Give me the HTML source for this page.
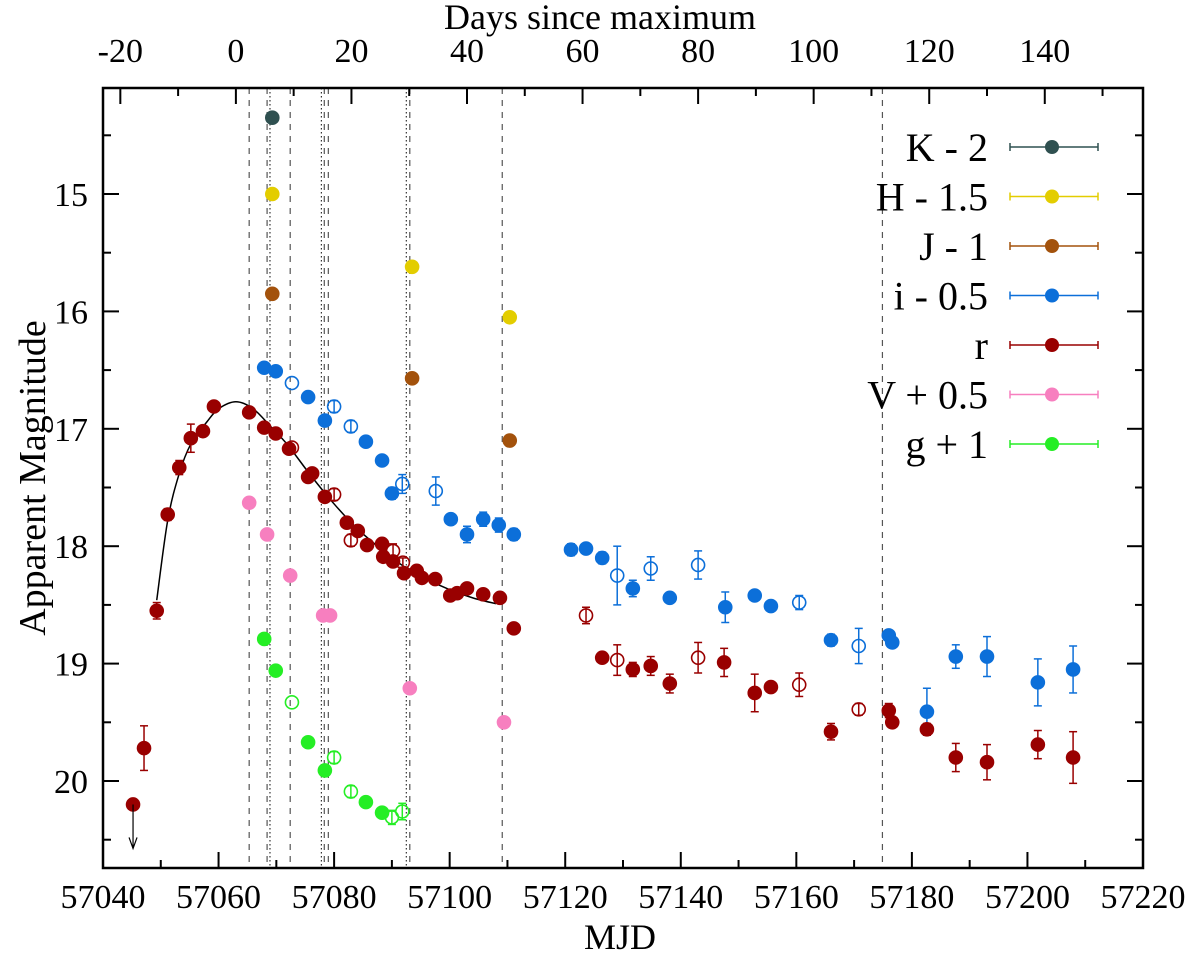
<!DOCTYPE html>
<html><head><meta charset="utf-8"><style>
body{margin:0;background:#fff}
svg{display:block}
text{font-family:"Liberation Serif",serif;fill:#000}
</style></head><body>
<svg id="chart" width="1200" height="960"></svg>
<script>
const rF=[[57045.2,20.20,0],[57047.1,19.72,0.19],[57049.3,18.55,0.07],[57051.2,17.73,0.05],[57053.2,17.33,0.06],[57055.2,17.08,0.12],[57057.3,17.02,0.03],[57059.2,16.81,0.03],[57065.3,16.86,0.03],[57067.9,16.99,0.03],[57069.9,17.04,0.03],[57072.2,17.17,0.03],[57075.5,17.41,0.03],[57076.2,17.38,0.03],[57078.4,17.58,0.03],[57082.2,17.80,0.03],[57084.1,17.87,0.03],[57085.7,17.99,0.03],[57088.3,17.98,0.03],[57088.5,18.09,0.03],[57090.2,18.13,0.03],[57092.1,18.23,0.03],[57094.3,18.21,0.03],[57095.2,18.27,0.03],[57097.5,18.28,0.03],[57100.1,18.42,0.03],[57101.3,18.40,0.03],[57103.0,18.36,0.04],[57105.8,18.41,0.04],[57108.7,18.44,0.03],[57111.1,18.70,0.03],[57126.4,18.95,0.03],[57131.7,19.05,0.06],[57134.8,19.02,0.08],[57138.1,19.17,0.08],[57147.5,18.99,0.12],[57152.8,19.25,0.16],[57155.6,19.20,0.03],[57166.0,19.58,0.07],[57176.0,19.40,0.06],[57176.6,19.50,0.03],[57182.6,19.56,0.05],[57187.6,19.80,0.12],[57193.0,19.84,0.15],[57201.8,19.69,0.12],[57207.9,19.80,0.22]];
const rO=[[57072.7,17.16,0.03],[57080.0,17.56,0.05],[57082.9,17.95,0.05],[57090.2,18.04,0.06],[57091.9,18.14,0.04],[57123.6,18.59,0.07],[57129.0,18.97,0.13],[57143.0,18.95,0.13],[57160.5,19.18,0.1],[57170.8,19.39,0.05]];
const iF=[[57067.9,16.48,0.02],[57069.9,16.51,0.02],[57075.5,16.73,0.02],[57078.4,16.93,0.02],[57085.5,17.11,0.02],[57088.3,17.27,0.02],[57090.0,17.55,0.05],[57100.2,17.77,0.04],[57103.0,17.90,0.07],[57105.8,17.77,0.06],[57108.5,17.82,0.06],[57111.1,17.90,0.05],[57121.0,18.03,0.05],[57123.6,18.02,0.04],[57126.4,18.10,0.05],[57131.7,18.36,0.07],[57138.1,18.44,0.04],[57147.7,18.52,0.13],[57152.8,18.42,0.03],[57155.6,18.51,0.03],[57166.0,18.80,0.05],[57176.0,18.76,0.04],[57176.6,18.82,0.04],[57182.6,19.41,0.2],[57187.6,18.94,0.1],[57193.0,18.94,0.17],[57201.8,19.16,0.2],[57207.9,19.05,0.2]];
const iO=[[57072.7,16.61,0.03],[57080.0,16.81,0.05],[57082.9,16.98,0.05],[57091.8,17.47,0.08],[57097.6,17.53,0.12],[57129.0,18.25,0.25],[57134.8,18.19,0.1],[57143.0,18.16,0.12],[57160.5,18.48,0.06],[57170.8,18.85,0.15]];
const vF=[[57065.3,17.63,0.02],[57068.4,17.90,0.02],[57072.4,18.25,0.02],[57078.1,18.59,0.02],[57079.3,18.59,0.02],[57093.1,19.21,0.02],[57109.4,19.50,0.02]];
const gF=[[57067.9,18.79,0.02],[57069.9,19.06,0.02],[57075.5,19.67,0.02],[57078.4,19.91,0.02],[57085.5,20.18,0.04],[57088.3,20.27,0.03]];
const gO=[[57072.7,19.33,0.03],[57080.0,19.80,0.05],[57082.9,20.09,0.05],[57090.0,20.31,0.06],[57091.8,20.26,0.07]];
const jF=[[57069.3,15.85,0.02],[57093.5,16.57,0.02],[57110.4,17.10,0.02]];
const hF=[[57069.3,15.00,0.02],[57093.5,15.62,0.02],[57110.4,16.05,0.02]];
const kF=[[57069.3,14.35,0.02]];
const fitCurve=[[57049.3,18.46],[57051.2,17.78],[57053.2,17.38],[57055.2,17.13],[57058,16.94],[57060,16.83],[57063,16.77],[57066,16.83],[57069,16.98],[57072,17.14],[57076,17.40],[57080,17.64],[57084,17.85],[57088,18.02],[57092,18.17],[57096,18.28],[57100,18.37],[57104,18.44],[57108,18.49]];
const vLines=[[57065.3,'dash'],[57068.4,'dash'],[57068.9,'dot'],[57072.4,'dash'],[57077.8,'dot'],[57078.3,'dash'],[57079.0,'dash'],[57092.5,'dot'],[57093.1,'dash'],[57109.1,'dash'],[57174.9,'dash']];
const xTicks=[57040,57060,57080,57100,57120,57140,57160,57180,57200,57220];
const yTicks=[15,16,17,18,19,20];
const topTicks=[-20,0,20,40,60,80,100,120,140];
const legendNames=['K - 2','H - 1.5','J - 1','i - 0.5','r','V + 0.5','g + 1'];
const legendColors=['#2f5050','#e3cd00','#a3520c','#0c6fd9','#990000','#f77fbf','#25ee25'];
const tMax=57063;

const L=103,R=1143,T=88,B=868;
const X=m=>L+(m-57040)*(R-L)/180;
const Y=v=>194+(v-15)*117.4;
const svg=document.getElementById('chart');
const NS='http://www.w3.org/2000/svg';
function mk(tag,at,parent){const e=document.createElementNS(NS,tag);for(const k in at)e.setAttribute(k,at[k]);(parent||svg).appendChild(e);return e;}

vLines.forEach(v=>{const l=mk('line',{x1:X(v[0]),x2:X(v[0]),y1:T,y2:B,stroke:v[1]==='dot'?'#333':'#555','stroke-width':1.2,'stroke-dasharray':v[1]==='dot'?'1.5,2.5':'6,6'});

});

let d='';const P=fitCurve.map(p=>[X(p[0]),Y(p[1])]);
d='M'+P[0][0]+','+P[0][1];
for(let i=0;i<P.length-1;i++){const p0=P[i-1]||P[i],p1=P[i],p2=P[i+1],p3=P[i+2]||P[i+1];
d+=` C${p1[0]+(p2[0]-p0[0])/6},${p1[1]+(p2[1]-p0[1])/6} ${p2[0]-(p3[0]-p1[0])/6},${p2[1]-(p3[1]-p1[1])/6} ${p2[0]},${p2[1]}`;}
const fc=mk('path',{d:d,fill:'none',stroke:'#000','stroke-width':1.5});



function series(data,color,open,name){
 const g=mk('g',{});
 
 
 data.forEach(p=>{const x=X(p[0]),y=Y(p[1]);
  if(p[2]>0.035){const e=p[2]*117.4;mk('line',{x1:x,x2:x,y1:y-e,y2:y+e,stroke:color,'stroke-width':1.5},g);
   mk('line',{x1:x-4,x2:x+4,y1:y-e,y2:y-e,stroke:color,'stroke-width':1.5},g);mk('line',{x1:x-4,x2:x+4,y1:y+e,y2:y+e,stroke:color,'stroke-width':1.5},g);}
  const c=mk('circle',{cx:x,cy:y,r:open?6.5:7.3,fill:open?'none':color,stroke:color,'stroke-width':open?1.6:0},g);
  
  
 });return g;}
series(kF,legendColors[0],false,'k-band');
series(hF,legendColors[1],false,'h-band');
series(jF,legendColors[2],false,'j-band');
series(iF,legendColors[3],false,'i-band');
series(iO,legendColors[3],true,'i-band-open');
series(vF,legendColors[5],false,'v-band');
series(gF,legendColors[6],false,'g-band');
series(gO,legendColors[6],true,'g-band-open');
series(rF,legendColors[4],false,'r-band');
series(rO,legendColors[4],true,'r-band-open');
const ax=X(rF[0][0]),ay=Y(rF[0][1]);
const ar=mk('path',{d:`M${ax},${ay} V${ay+44} M${ax-4},${ay+33} L${ax},${ay+44} L${ax+4},${ay+33}`,stroke:'#000','stroke-width':1.2,fill:'none'});



const fr=mk('rect',{x:L,y:T,width:R-L,height:B-T,fill:'none',stroke:'#000','stroke-width':2.5});



for(let m=57040;m<=57220;m+=10){const x=X(m),len=m%20===0?16:8;
 mk('line',{x1:x,x2:x,y1:B,y2:B-len,stroke:'#000','stroke-width':2});}
xTicks.forEach(m=>{const t=mk('text',{x:X(m),y:908,'font-size':34,'text-anchor':'middle'});t.textContent=m;

});
for(let dd=-20;dd<=150;dd+=10){const x=X(tMax+dd),len=dd%20===0?16:8;if(x<L||x>R)continue;
 mk('line',{x1:x,x2:x,y1:T,y2:T+len,stroke:'#000','stroke-width':2});}
topTicks.forEach(dd=>{const t=mk('text',{x:X(tMax+dd),y:62,'font-size':34,'text-anchor':'middle'});t.textContent=dd;

});
for(let v=14.5;v<=20.5;v+=0.5){const y=Y(v),len=Number.isInteger(v)?16:8;
 mk('line',{x1:L,x2:L+len,y1:y,y2:y,stroke:'#000','stroke-width':2});mk('line',{x1:R,x2:R-len,y1:y,y2:y,stroke:'#000','stroke-width':2});}
yTicks.forEach(v=>{const t=mk('text',{x:88,y:Y(v)+12,'font-size':34,'text-anchor':'end'});t.textContent=v;

});

let t=mk('text',{x:620,y:949,'font-size':36,'text-anchor':'middle'});t.textContent='MJD';

t=mk('text',{x:600,y:29,'font-size':36,'text-anchor':'middle'});t.textContent='Days since maximum';

t=mk('text',{x:0,y:0,'font-size':38,'text-anchor':'middle',transform:'translate(45,478) rotate(-90)'});t.textContent='Apparent Magnitude';


legendNames.forEach((n,i)=>{const y=147+i*49.5,c=legendColors[i];
 const g=mk('g',{});
 
 
 const tx=mk('text',{x:988,y:y+14,'font-size':40,'text-anchor':'end'},g);tx.textContent=n;
 mk('line',{x1:1010,x2:1098,y1:y,y2:y,stroke:c,'stroke-width':1.5},g);
 mk('line',{x1:1010,x2:1010,y1:y-4,y2:y+4,stroke:c,'stroke-width':1.5},g);
 mk('line',{x1:1098,x2:1098,y1:y-4,y2:y+4,stroke:c,'stroke-width':1.5},g);
 mk('circle',{cx:1052,cy:y,r:7,fill:c},g);
});
</script>
</body></html>
